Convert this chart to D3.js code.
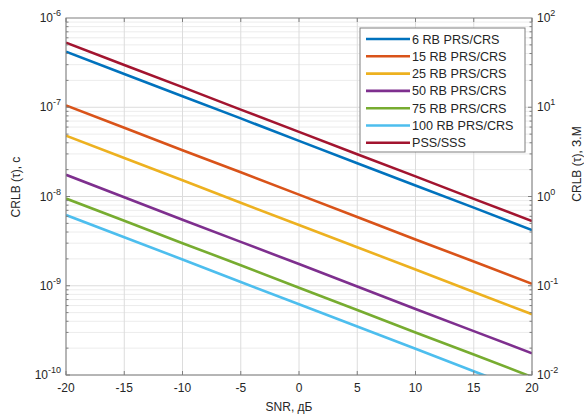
<!DOCTYPE html>
<html>
<head>
<meta charset="utf-8">
<script src="https://cdn.jsdelivr.net/npm/d3@7"></script>
<style>
  body { margin: 0; background: #fff; }
  text { font-family: "Liberation Sans", Arial, sans-serif; fill: #262626; }
</style>
</head>
<body>
<div id="graph"></div>
<script>
/* Values */
const snr = [-20, -15, -10, -5, 0, 5, 10, 15, 20];
const rb6   = [4.2e-7, 2.36e-7, 1.33e-7, 7.5e-8, 4.2e-8, 2.36e-8, 1.33e-8, 7.5e-9, 4.2e-9];
const rb15  = [1.05e-7, 5.9e-8, 3.3e-8, 1.87e-8, 1.05e-8, 5.9e-9, 3.3e-9, 1.87e-9, 1.05e-9];
const rb25  = [4.8e-8, 2.7e-8, 1.52e-8, 8.5e-9, 4.8e-9, 2.7e-9, 1.52e-9, 8.5e-10, 4.8e-10];
const rb50  = [1.75e-8, 9.8e-9, 5.5e-9, 3.1e-9, 1.75e-9, 9.8e-10, 5.5e-10, 3.1e-10, 1.75e-10];
const rb75  = [9.5e-9, 5.35e-9, 3.0e-9, 1.7e-9, 9.5e-10, 5.35e-10, 3.0e-10, 1.7e-10, 9.5e-11];
const rb100 = [6.2e-9, 3.5e-9, 1.97e-9, 1.1e-9, 6.2e-10, 3.5e-10, 1.97e-10, 1.1e-10, 6.2e-11];
const pss   = [5.3e-7, 2.98e-7, 1.68e-7, 9.4e-8, 5.3e-8, 2.98e-8, 1.68e-8, 9.4e-9, 5.3e-9];

const seriesNames = ["6 RB PRS/CRS", "15 RB PRS/CRS", "25 RB PRS/CRS", "50 RB PRS/CRS",
                     "75 RB PRS/CRS", "100 RB PRS/CRS", "PSS/SSS"];
const seriesValues = [rb6, rb15, rb25, rb50, rb75, rb100, pss];
const colors = ["#0072BD", "#D95319", "#EDB120", "#7E2F8E", "#77AC30", "#4DBEEE", "#A2142F"];

const xTicks = [-20, -15, -10, -5, 0, 5, 10, 15, 20];
const leftExp = [-10, -9, -8, -7, -6];
const rightExp = [-2, -1, 0, 1, 2];

const W = 584, H = 417;
const L = 66, R = 532, T = 18, B = 375;

const svg = d3.select("#graph").append("svg").attr("width", W).attr("height", H);

const x = d3.scaleLinear().domain([-20, 20]).range([L, R]);
const y = d3.scaleLog().domain([1e-10, 1e-6]).range([B, T]);
const y2 = d3.scaleLog().domain([1e-2, 1e2]).range([B, T]);

/* grid */
const minor = [];
for (let e = -10; e < -6; e++) {
    for (let k = 1; k <= 9; k++) minor.push(k * Math.pow(10, e));
}
const isMajor = d => leftExp.some(e => Math.abs(Math.log10(d) - e) < 1e-6);
svg.append("g").selectAll("line").data(minor).enter().append("line")
    .attr("x1", L).attr("x2", R)
    .attr("y1", d => y(d)).attr("y2", d => y(d))
    .attr("stroke", d => isMajor(d) ? "#dcdcdc" : "#ececec")
    .attr("stroke-width", 1);
svg.append("g").selectAll("line").data(xTicks).enter().append("line")
    .attr("x1", d => x(d)).attr("x2", d => x(d))
    .attr("y1", T).attr("y2", B)
    .attr("stroke", "#dcdcdc").attr("stroke-width", 1);

/* lines */
svg.append("clipPath").attr("id", "clip").append("rect")
    .attr("x", L).attr("y", T).attr("width", R - L).attr("height", B - T);

const line = d3.line().x((d, i) => x(snr[i])).y(d => y(d));
svg.append("g").attr("clip-path", "url(#clip)")
    .selectAll("path").data(seriesValues).enter().append("path")
    .attr("d", d => line(d))
    .attr("fill", "none")
    .attr("stroke", (d, i) => colors[i])
    .attr("stroke-width", 2.6);

/* axes box */
svg.append("rect").attr("x", L).attr("y", T).attr("width", R - L).attr("height", B - T)
    .attr("fill", "none").attr("stroke", "#7f7f7f").attr("stroke-width", 1);

const ax = svg.append("g");
xTicks.forEach(t => {
    ax.append("line").attr("x1", x(t)).attr("x2", x(t)).attr("y1", B).attr("y2", B - 4).attr("stroke", "#7f7f7f");
    ax.append("line").attr("x1", x(t)).attr("x2", x(t)).attr("y1", T).attr("y2", T + 4).attr("stroke", "#7f7f7f");
    ax.append("text").attr("x", x(t)).attr("y", B + 17).attr("text-anchor", "middle")
        .style("font-size", "12px").text(t);
});
minor.forEach(v => {
    const len = isMajor(v) ? 4 : 2.5;
    ax.append("line").attr("x1", L).attr("x2", L + len).attr("y1", y(v)).attr("y2", y(v)).attr("stroke", "#7f7f7f");
    ax.append("line").attr("x1", R).attr("x2", R - len).attr("y1", y(v)).attr("y2", y(v)).attr("stroke", "#7f7f7f");
});

function powLabel(g, px, py, exp, anchor) {
    const t = g.append("text").attr("x", px).attr("y", py).attr("text-anchor", anchor)
        .style("font-size", "12px");
    t.append("tspan").text("10");
    t.append("tspan").attr("dy", -6).style("font-size", "9px").text(exp);
}
leftExp.forEach(e => powLabel(ax, L - 5, y(Math.pow(10, e)) + 4, e, "end"));
rightExp.forEach(e => powLabel(ax, R + 5, y2(Math.pow(10, e)) + 4, e, "start"));

/* axis titles */
svg.append("text").attr("x", 289).attr("y", 411).attr("text-anchor", "middle")
    .style("font-size", "12px").text("SNR, дБ");
svg.append("text").attr("transform", "translate(20,187) rotate(-90)")
    .attr("text-anchor", "middle").style("font-size", "12px").text("CRLB (τ), с");
svg.append("text").attr("transform", "translate(581,164) rotate(-90)")
    .attr("text-anchor", "middle").style("font-size", "12px").text("CRLB (τ), З.М");

/* legend */
const legend = svg.append("g").attr("id", "legend");
legend.append("rect").attr("x", 360).attr("y", 28).attr("width", 165).attr("height", 124)
    .attr("fill", "#fff").attr("stroke", "#7f7f7f");
const items = legend.selectAll(".item").data(seriesNames).enter().append("g")
    .attr("transform", (d, i) => "translate(0," + (39 + i * 17.3) + ")");
items.append("line").attr("x1", 366).attr("x2", 410).attr("y1", 0).attr("y2", 0)
    .attr("stroke", (d, i) => colors[i]).attr("stroke-width", 2.6);
items.append("text").attr("x", 412).attr("y", 4.5).style("font-size", "12.6px").text(d => d);
</script>
</body>
</html>
